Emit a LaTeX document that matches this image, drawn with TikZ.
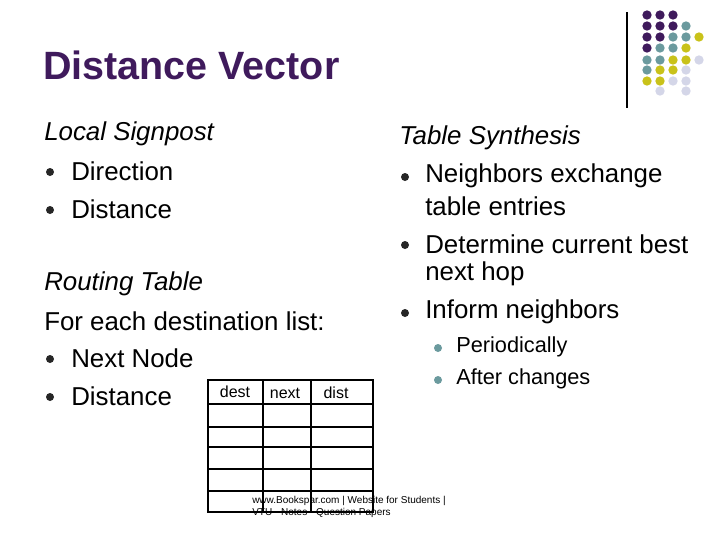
\documentclass[tikz,border=0pt]{standalone}
\usepackage{fontspec}
\setmainfont{Liberation Sans}
\begin{document}
\begin{tikzpicture}[x=0.75pt,y=-0.75pt,
  txt/.style={anchor=west,inner sep=0pt,font=\fontsize{19.4}{21}\selectfont},
  sub/.style={anchor=west,inner sep=0pt,font=\fontsize{16.3}{18}\selectfont},
  bul/.style={circle,fill=black!85,inner sep=0pt,minimum size=6pt},
  sbul/.style={circle,fill=teal0,inner sep=0pt,minimum size=6pt},
  dot/.style={circle,inner sep=0pt,minimum size=7pt},
  cell/.style={draw,line width=2pt}]
\definecolor{pur}{HTML}{3F1A5C}
\definecolor{teal0}{HTML}{6B9A9E}
\definecolor{yel}{HTML}{C9C21A}
\definecolor{lav}{HTML}{D4D6E8}
\useasboundingbox (0,0) rectangle (720,540);
\fill[white] (0,0) rectangle (720,540);
% decoration
\draw[line width=0.8pt] (627,12) -- (627,108);
\foreach \row/\y in {{P,P,P,N,N}/15,{P,P,P,T,N}/26,{P,P,T,T,Y}/37,{P,T,T,Y,N}/48,{T,T,Y,Y,L}/60,{T,Y,Y,L,N}/70,{Y,Y,L,L,N}/81,{N,L,N,L,N}/91}{
  \foreach \c [count=\i] in \row {
    \pgfmathsetmacro{\xx}{634+13*\i}
    \if\c P \node[dot,fill=pur] at (\xx,\y) {};\fi
    \if\c T \node[dot,fill=teal0] at (\xx,\y) {};\fi
    \if\c Y \node[dot,fill=yel] at (\xx,\y) {};\fi
    \if\c L \node[dot,fill=lav] at (\xx,\y) {};\fi
  }}
\node[anchor=west,inner sep=0pt,text=pur,font=\fontsize{29.6}{31}\selectfont\bfseries] (title) at (43,65) {Distance Vector};
% left column
\node[txt,font=\fontsize{19.4}{21}\selectfont\itshape] (ls) at (44,134) {Local Signpost};
\node[bul] (b1) at (50,172) {}; \node[txt] (t1) at (71,171) {Direction};
\node[bul] (b2) at (50,210) {}; \node[txt] (t2) at (71,209) {Distance};
\node[txt,font=\fontsize{19.4}{21}\selectfont\itshape] (rt) at (44,284) {Routing Table};
\node[txt] (fe) at (44,321) {For each destination list:};
\node[bul] (b3) at (50,359) {}; \node[txt] (t3) at (71,358) {Next Node};
\node[bul] (b4) at (50,397) {}; \node[txt] (t4) at (71,396) {Distance};
% right column
\node[txt,font=\fontsize{19.4}{21}\selectfont\itshape] (ts) at (399,138) {Table Synthesis};
\node[bul] (b5) at (405,177) {}; \node[txt] (t5) at (425,176) {Neighbors exchange};
\node[txt] (t5b) at (425,206) {table entries};
\node[bul] (b6) at (405,245) {}; \node[txt] (t6) at (425,244) {Determine current best};
\node[txt] (t6b) at (425,274) {next hop};
\node[bul] (b7) at (405,313) {}; \node[txt] (t7) at (425,312) {Inform neighbors};
\node[sbul] (s1) at (438,348) {}; \node[sub] (u1) at (456,347) {Periodically};
\node[sbul] (s2) at (438,380) {}; \node[sub] (u2) at (456,379) {After changes};
% table
\foreach \ya/\yb in {380/404,404/427,427/447,447/469,469/491,491/512}{
  \draw[cell] (208,\ya) rectangle (263,\yb);
  \draw[cell] (263,\ya) rectangle (311,\yb);
  \draw[cell] (311,\ya) rectangle (373,\yb);}
\node[anchor=center,inner sep=0pt,font=\fontsize{12}{13}\selectfont] (h1) at (235,392) {dest};
\node[anchor=center,inner sep=0pt,font=\fontsize{12}{13}\selectfont] (h2) at (285,393) {next};
\node[anchor=center,inner sep=0pt,font=\fontsize{12}{13}\selectfont] (h3) at (336,393) {dist};
% footer
\node[anchor=west,inner sep=0pt,font=\fontsize{7.5}{8}\selectfont] (f1) at (252,501) {www.Bookspar.com | Website for Students |};
\node[anchor=west,inner sep=0pt,font=\fontsize{7.5}{8}\selectfont] (f2) at (252,513) {VTU - Notes - Question Papers};
\end{tikzpicture}
\end{document}
